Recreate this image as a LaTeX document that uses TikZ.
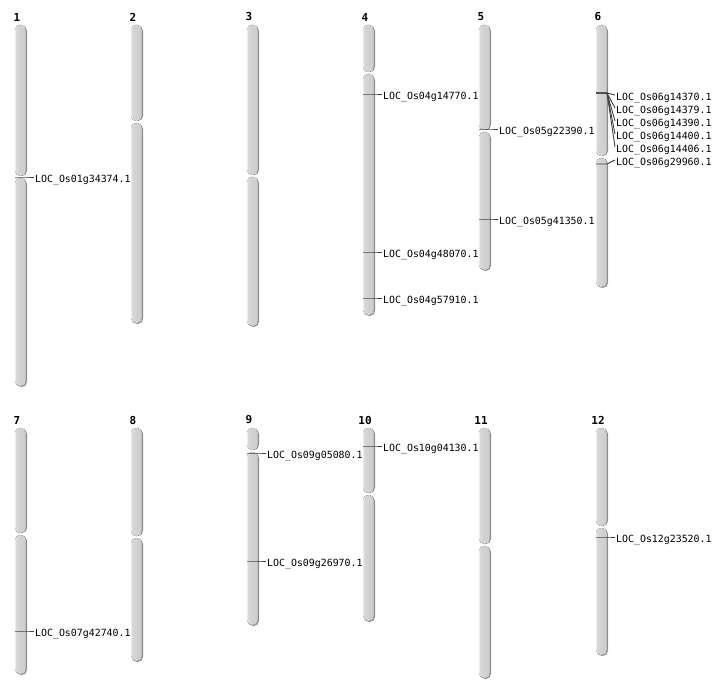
\documentclass[tikz,border=0pt]{standalone}
\usepackage{fontspec}
\setmonofont{DejaVu Sans Mono}
\usetikzlibrary{positioning}
\pgfdeclarehorizontalshading{chromshade}{100bp}{color(0bp)=(gray!14); color(25bp)=(gray!14); color(28bp)=(gray!28); color(40bp)=(gray!34); color(66bp)=(gray!38); color(72bp)=(gray!55); color(75bp)=(gray!85); color(100bp)=(gray!85)}

\begin{document}
\begin{tikzpicture}[x=1pt, y=-1pt,
  arm/.style={rounded corners=5pt, shading=chromshade},
  armshadow/.style={rounded corners=5pt, fill=gray!75},
  chromnum/.style={font=\ttfamily\bfseries\fontsize{11}{12}\selectfont, inner sep=0pt},
  locus/.style={font=\ttfamily\fontsize{9.9}{11}\selectfont, anchor=west, inner sep=1pt,
    text height=15pt, text depth=4pt},
  marker/.style={draw=black!75, line width=0.9pt}]
\useasboundingbox (0,0) rectangle (712,700);
\foreach \n/\x/\t/\c/\b in {1/15/25/177/386, 2/131/25/122/323, 3/247/25/176/326,
    4/363/25/73/315, 5/479/25/131/270, 6/596/25/157/287,
    7/15/428/534/674, 8/131/428/537/661, 9/247/428/451/625,
    10/363/428/494/621, 11/479/428/545/678, 12/596/428/527/655} {
  \fill[armshadow] (\x+1,\t+1) rectangle (\x+12,\c-1);
  \fill[armshadow] (\x+1,\c+2) rectangle (\x+12,\b+1);
  \fill[arm] (\x,\t) rectangle (\x+11,\c-1);
  \fill[arm] (\x,\c+1) rectangle (\x+11,\b);
  \node[chromnum] (num\n) at (\x+2,\t-8) {\n};
}
\foreach \nm/\x/\my/\ly/\txt in {a/15/177/177/01g34374,
    b/363/94/94/04g14770, c/363/252/252/04g48070, d/363/298/298/04g57910,
    e/479/129/129/05g22390, f/479/219/219/05g41350,
    g/596/93/95/06g14370, h/596/93/108/06g14379, i/596/93/121/06g14390,
    j/596/93/134/06g14400, k/596/93/147/06g14406, l/596/164/160/06g29960,
    m/15/631/631/07g42740, n/247/453/453/09g05080, o/247/561/561/09g26970,
    p/363/446/446/10g04130, q/596/537/537/12g23520} {
  \node[locus] (loc\nm) at (\x+19,\ly) {LOC\_Os\txt.1};
  \draw[marker] (\x,\my) -- (\x+11,\my) -- (loc\nm.west);
}
\end{tikzpicture}
\end{document}
